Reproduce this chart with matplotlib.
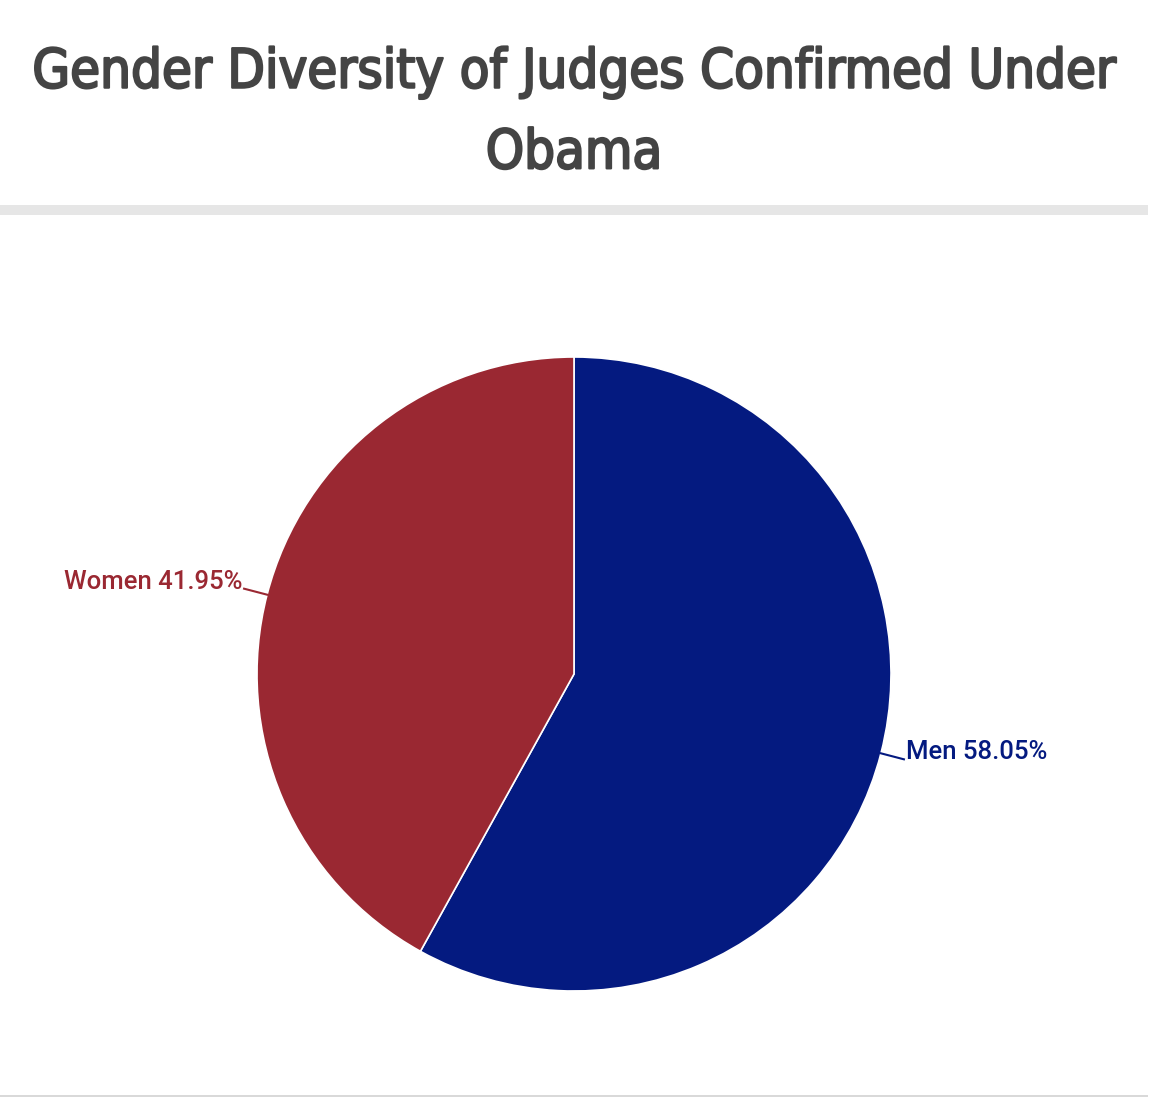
import numpy as np
import matplotlib
matplotlib.use("Agg")
import matplotlib.pyplot as plt
import matplotlib.patheffects as pe
from matplotlib.lines import Line2D

# === data ===
labels = ["Men", "Women"]
shares = [58.05, 41.95]
colors = ["#041a80", "#9a2832"]
title = "Gender Diversity of Judges Confirmed Under\nObama"

W, H = 1164, 1102
fig = plt.figure(figsize=(W / 100, H / 100), dpi=100)
ax = fig.add_axes([0, 0, 1, 1])
ax.set_xlim(0, W)
ax.set_ylim(0, H)
ax.set_aspect("equal")
ax.axis("off")

# pie in pixel space (y measured from bottom)
cx, cy, r = 574, H - 674, 317
wedges, _ = ax.pie(shares, colors=colors, startangle=90, counterclock=False,
                   center=(cx, cy), radius=r,
                   wedgeprops=dict(edgecolor="white", linewidth=1.2))
ax.set_xlim(0, W)
ax.set_ylim(0, H)

# outside labels with short leader lines
for w, lab, val, col in zip(wedges, labels, shares, colors):
    ang = np.deg2rad((w.theta1 + w.theta2) / 2)
    x0, y0 = cx + r * np.cos(ang), cy + r * np.sin(ang)
    side = 1 if np.cos(ang) > 0 else -1
    x1, y1 = x0 + side * 23, y0 - side * 6
    ax.add_line(Line2D([x0, x1], [y0, y1], color=col, lw=1.5))
    ax.text(x1 + side * 2, y1, f"{lab} {val:.2f}%", color=col,
            fontsize=18.5, family="Roboto", fontweight="medium",
            ha="left" if side > 0 else "right", va="baseline")

# title
fig.text(0.493, 1 - 113 / H, title, ha="center", va="center", fontsize=39,
         family="DejaVu Sans", fontstretch="condensed", color="#444444",
         linespacing=1.7,
         path_effects=[pe.withStroke(linewidth=1.6, foreground="#444444")])

# separators
ax.add_patch(plt.Rectangle((0, H - 215), 1148, 10, color="#e6e6e6", lw=0))
ax.add_patch(plt.Rectangle((0, H - 1097), 1148, 2, color="#d9d9d9", lw=0))

fig.savefig("out.png", dpi=100)
